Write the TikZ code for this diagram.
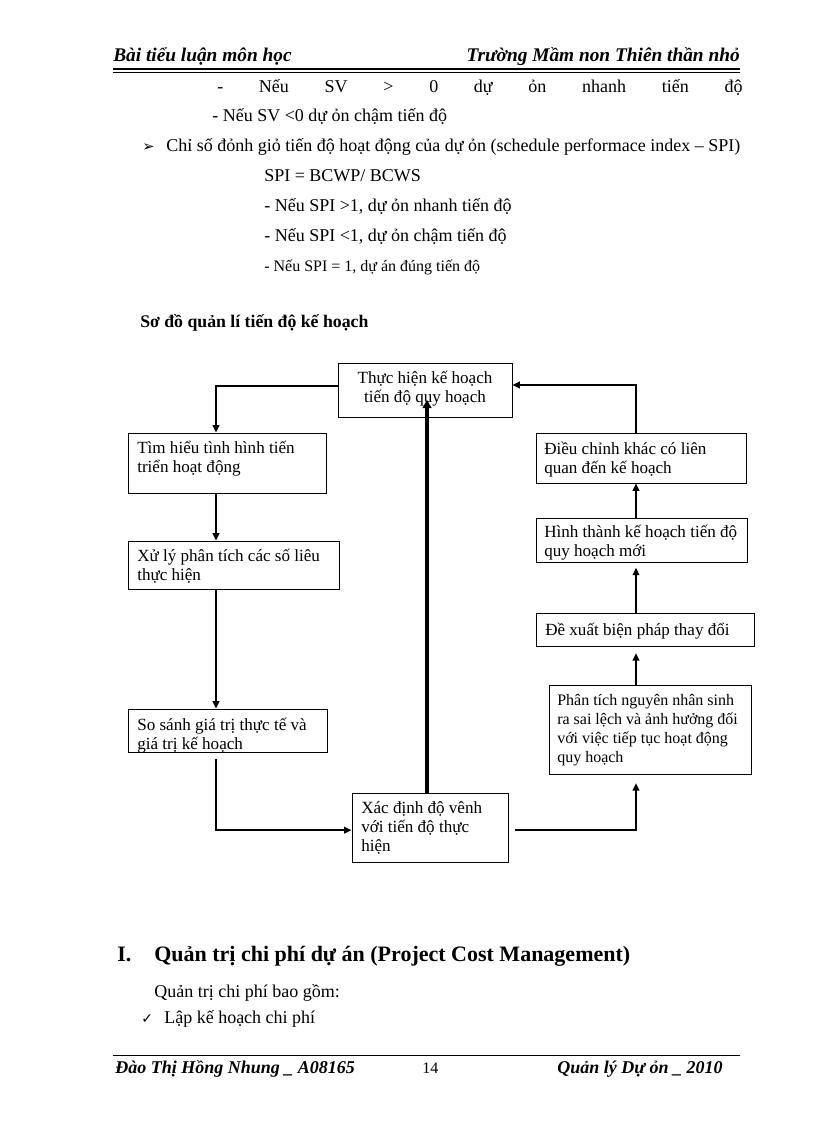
\documentclass[tikz,border=0pt]{standalone}
\usepackage{fontspec}
\setmainfont{Liberation Serif}
\newfontfamily\symfont{DejaVu Sans}
\usetikzlibrary{arrows.meta,fit}
\begin{document}
\begin{tikzpicture}[x=0.75pt,y=-0.75pt,
  box/.style={draw, line width=0.75pt, inner sep=0pt},
  btxt/.style={anchor=base west, inner sep=0pt, align=left, font=\fontsize{12.8pt}{14.25pt}\selectfont},
  txt/.style={anchor=base west, inner sep=0pt, font=\fontsize{13.5pt}{16pt}\selectfont},
  conn/.style={line width=1.1pt, -{Triangle[length=5.5pt,width=5pt]}},
  thickconn/.style={line width=3pt, -{Triangle[length=6pt,width=6.5pt]}},
  hdr/.style={inner sep=0pt, font=\fontsize{14.5pt}{16pt}\selectfont\bfseries\itshape},
  ftr/.style={inner sep=0pt, font=\fontsize{13.5pt}{16pt}\selectfont\bfseries\itshape}
]
\fill[white] (0,0) rectangle (816,1123);
\useasboundingbox (0,0) rectangle (816,1123);

% header
\node[hdr, anchor=base west] (hl) at (113,62) {Bài tiểu luận môn học};
\node[hdr, anchor=base east] (hr) at (740,62) {Trường Mầm non Thiên thần nhỏ};
\draw[line width=0.8pt] (113,69) -- (740,69);
\draw[line width=0.5pt] (113,72) -- (740,72);

% body text
\node[txt] (l1) at (217,93) {\hbox to 394pt{-\hfill Nếu\hfill SV\hfill >\hfill 0\hfill dự\hfill ỏn\hfill nhanh\hfill tiến\hfill độ}};
\node[txt] (l2) at (212,122) {- Nếu SV <0 dự ỏn chậm tiến độ};
\node[txt, font=\symfont\fontsize{11pt}{12pt}\selectfont] (b1) at (142,152) {➢};
\node[txt] (l3) at (166,152) {Chỉ số đỏnh giỏ tiến độ hoạt động của dự ỏn (schedule performace index – SPI)};
\node[txt] (l4) at (264,182) {SPI = BCWP/ BCWS};
\node[txt] (l5) at (264,212) {- Nếu SPI >1, dự ỏn nhanh  tiến độ};
\node[txt] (l6) at (264,242) {- Nếu SPI <1, dự ỏn chậm tiến độ};
\node[txt, font=\fontsize{12pt}{14pt}\selectfont] (l7) at (264,271) {- Nếu SPI = 1, dự án đúng tiến  độ};

% diagram title
\node[txt, font=\fontsize{13.3pt}{15pt}\selectfont\bfseries] (title) at (140,327) {Sơ đồ quản  lí tiến độ kế hoạch};

% boxes
\node[box, fit={(338,363) (512,417)}] (top) {};
\node[box, fit={(128,433) (326,493)}] (tim) {};
\node[box, fit={(128,541) (339,589)}] (xuly) {};
\node[box, fit={(128,709) (327,752)}] (sosanh) {};
\node[box, fit={(352,793) (508,862)}] (xacdinh) {};
\node[box, fit={(549,685) (751,774)}] (phantich) {};
\node[box, fit={(536,613) (754,646)}] (dexuat) {};
\node[box, fit={(536,518) (747,562)}] (hinhthanh) {};
\node[box, fit={(536,433) (746,483)}] (dieuchinh) {};

% box texts (anchor = baseline of the last line)
\node[btxt, anchor=base, align=center] (ttop) at (425,402) {Thực hiện kế hoạch\\tiến độ quy hoạch};
\node[btxt] (ttim) at (137,472) {Tìm hiểu tình hình tiến\\triển hoạt động};
\node[btxt] (txuly) at (137,580) {Xử lý phân tích các số liêu\\thực hiện};
\begin{scope}
  \clip (sosanh.north west) rectangle (sosanh.south east);
  \node[btxt] (tsosanh) at (137,749) {So sánh giá trị thực tế và\\giá trị kế hoạch};
\end{scope}
\node[btxt] (txacdinh) at (361,851) {Xác định độ vênh\\với tiến độ thực\\hiện};
\node[btxt, font=\fontsize{12pt}{14.25pt}\selectfont] (tphantich) at (557,762) {Phân tích nguyên nhân sinh\\ra sai lệch và ảnh hưởng đối\\với việc tiếp tục hoạt động\\quy hoạch};
\node[btxt] (tdexuat) at (545,635) {Đề xuất biện pháp thay đổi};
\node[btxt] (thinhthanh) at (544,556) {Hình thành kế hoạch tiến độ\\quy hoạch mới};
\node[btxt] (tdieuchinh) at (544,473) {Điều chỉnh khác có liên\\quan đến kế hoạch};

% connector guides
\coordinate (cL) at (216,0);
\coordinate (cR) at (636,0);
\coordinate (cM) at (427,0);
\coordinate (thickEnd) at (427,400);

% connectors
\draw[conn] ([yshift=3pt]top.west) -| (cL |- tim.north);
\draw[conn] (cL |- tim.south) -- (cL |- xuly.north);
\draw[conn] (cL |- xuly.south) -- (cL |- sosanh.north);
\draw[conn, shorten <=4.5pt] (cL |- sosanh.south) |- ([yshift=-2pt]xacdinh.west);
\draw[thickconn] (cM |- xacdinh.north) -- (thickEnd);
\draw[conn, shorten <=4.5pt, shorten >=6.5pt] ([yshift=-2pt]xacdinh.east) -| (cR |- phantich.south);
\draw[conn, shorten >=5pt] (cR |- phantich.north) -- (cR |- dexuat.south);
\draw[conn, shorten >=4pt] (cR |- dexuat.north) -- (cR |- hinhthanh.south);
\draw[conn] (cR |- hinhthanh.north) -- (cR |- dieuchinh.south);
\draw[conn] (cR |- dieuchinh.north) |- ([yshift=3.75pt]top.east);

% section heading
\node[txt, font=\fontsize{16.5pt}{19pt}\selectfont\bfseries] (hI) at (117,961) {I.};
\node[txt, font=\fontsize{16.5pt}{19pt}\selectfont\bfseries] (hq) at (154,961) {Quản trị chi phí dự án (Project Cost Management)};
\node[txt] (q1) at (154,997) {Quản trị chi phí bao gồm:};
\node[txt, font=\symfont\fontsize{10.5pt}{12pt}\selectfont] (ck) at (141,1023) {✓};
\node[txt] (q2) at (164,1023) {Lập kế hoạch chi phí};

% footer
\draw[line width=0.6pt] (113,1055) -- (740,1055);
\node[ftr, anchor=base west] (fl) at (115,1073) {Đào Thị Hồng Nhung \_ A08165};
\node[txt, font=\fontsize{12pt}{14pt}\selectfont] (fn) at (422,1073) {14};
\node[ftr, anchor=base east] (fr) at (723,1073) {Quản lý Dự ỏn \_ 2010};
\end{tikzpicture}
\end{document}
